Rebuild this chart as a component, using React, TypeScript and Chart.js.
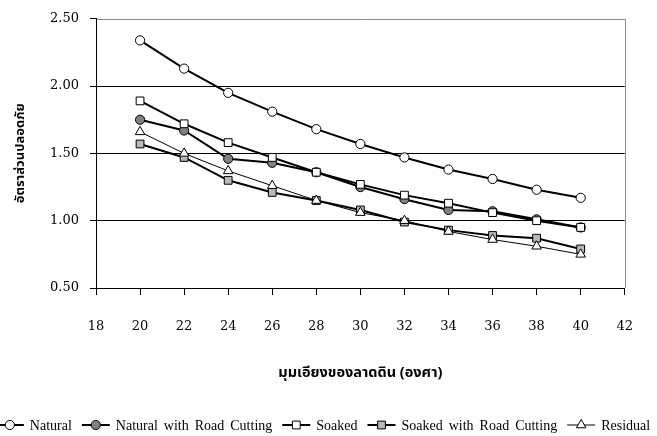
import React, { useEffect, useRef } from 'react';
import { Chart, registerables } from 'chart.js';
import { drawPoint } from 'chart.js/helpers';

Chart.register(...registerables);

const slopeAngles = [20, 22, 24, 26, 28, 30, 32, 34, 36, 38, 40];
const natural = [2.34, 2.13, 1.95, 1.81, 1.68, 1.57, 1.47, 1.38, 1.31, 1.23, 1.17];
const naturalRoadCutting = [1.75, 1.67, 1.46, 1.43, 1.36, 1.25, 1.16, 1.08, 1.07, 1.01, 0.95];
const soaked = [1.89, 1.72, 1.58, 1.47, 1.36, 1.27, 1.19, 1.13, 1.06, 1.0, 0.95];
const soakedRoadCutting = [1.57, 1.47, 1.3, 1.21, 1.15, 1.08, 0.99, 0.93, 0.89, 0.87, 0.79];
const residual = [1.66, 1.5, 1.37, 1.26, 1.15, 1.06, 1.0, 0.92, 0.86, 0.81, 0.75];

const seriesLabels = ['Natural', 'Natural with Road Cutting', 'Soaked', 'Soaked with Road Cutting', 'Residual'];
const yAxisTitle = 'อัตราส่วนปลอดภัย';
const xAxisTitle = 'มุมเอียงของลาดดิน (องศา)';
const xMin = 18;
const xMax = 42;
const xStep = 2;
const yMin = 0.5;
const yMax = 2.5;
const yStep = 0.5;

const toPoints = (ys: number[]) => slopeAngles.map((x, i) => ({ x, y: ys[i] }));

const frameBorderPlugin = {
  id: 'frameBorder',
  afterDraw(chart: any) {
    const { ctx, chartArea } = chart;
    const top = Math.round(chartArea.top) + 0.5;
    const right = Math.round(chartArea.right) + 0.5;
    ctx.save();
    ctx.strokeStyle = '#8c8c8c';
    ctx.lineWidth = 1;
    ctx.beginPath();
    ctx.moveTo(chartArea.left + 1, top);
    ctx.lineTo(right, top);
    ctx.moveTo(right, top);
    ctx.lineTo(right, chartArea.bottom);
    ctx.stroke();
    ctx.restore();
  },
};

const legendPlugin = {
  id: 'customLegend',
  afterDraw(chart: any) {
    const ctx = chart.ctx as any;
    ctx.save();
    ctx.font = '14px "Liberation Serif", "Times New Roman", serif';
    if ('wordSpacing' in ctx) ctx.wordSpacing = '2.5px';
    const markerW = 28;
    const textGap = 6;
    const itemGap = 10;
    const items = chart.data.datasets.map((ds: any) => ({ ds, w: ctx.measureText(ds.label).width }));
    const total =
      items.reduce((s: number, it: any) => s + markerW + textGap + it.w, 0) + itemGap * (items.length - 1);
    let x = 323 - total / 2;
    const y = 425;
    for (const it of items) {
      const ds = it.ds;
      ctx.strokeStyle = '#000';
      ctx.lineWidth = ds.borderWidth;
      ctx.beginPath();
      ctx.moveTo(x, y);
      ctx.lineTo(x + markerW, y);
      ctx.stroke();
      ctx.fillStyle = ds.pointBackgroundColor;
      ctx.strokeStyle = '#000';
      ctx.lineWidth = 1;
      drawPoint(ctx, { pointStyle: ds.pointStyle, radius: ds.pointRadius, rotation: 0, borderWidth: 1 } as any, x + markerW / 2, y);
      ctx.fillStyle = '#000';
      ctx.textAlign = 'left';
      ctx.textBaseline = 'middle';
      ctx.fillText(ds.label, x + markerW + textGap, y + 1);
      x += markerW + textGap + it.w + itemGap;
    }
    ctx.restore();
  },
};

export default function App() {
  const canvasRef = useRef<HTMLCanvasElement | null>(null);

  useEffect(() => {
    if (!canvasRef.current) return;
    const mk = (i: number, ys: number[], fill: string, style: string, radius: number, width: number, order: number) => ({
      label: seriesLabels[i],
      data: toPoints(ys),
      borderColor: '#000',
      borderWidth: width,
      pointStyle: style,
      pointRadius: radius,
      pointBackgroundColor: fill,
      pointBorderColor: '#000',
      pointBorderWidth: 1,
      fill: false,
      tension: 0,
      order,
    });
    const chart = new Chart(canvasRef.current, {
      type: 'line',
      data: {
        datasets: [
          mk(0, natural, '#ffffff', 'circle', 4.6, 2, 5),
          mk(1, naturalRoadCutting, '#808080', 'circle', 4.6, 2, 4),
          mk(2, soaked, '#ffffff', 'rect', 5.5, 2, 2),
          mk(3, soakedRoadCutting, '#b8b8b8', 'rect', 5.5, 2, 3),
          mk(4, residual, '#ffffff', 'triangle', 5.5, 1, 1),
        ] as any,
      },
      options: {
        animation: false,
        responsive: false,
        events: [],
        layout: { padding: { top: 14, right: 21, bottom: 53, left: 0 } },
        plugins: {
          legend: { display: false },
          tooltip: { enabled: false },
        },
        scales: {
          x: {
            type: 'linear',
            min: xMin,
            max: xMax,
            afterFit: (scale: any) => {
              scale.height = 95;
            },
            ticks: {
              stepSize: xStep,
              color: '#000',
              padding: 24,
              font: { family: '"DejaVu Serif", serif', size: 13 },
              callback: (v: any) => String(v),
            },
            grid: {
              drawOnChartArea: false,
              tickColor: '#000',
              tickLength: 7,
              lineWidth: 1,
            },
            border: { color: '#000', width: 1 },
            title: {
              display: true,
              text: xAxisTitle,
              color: '#000',
              padding: { top: 0, bottom: 0 },
              font: { family: '"Noto Sans Thai", Tahoma, "DejaVu Sans", sans-serif', size: 14.5, weight: 'bold' },
            },
          },
          y: {
            type: 'linear',
            min: yMin,
            max: yMax,
            afterFit: (scale: any) => {
              scale.width = 96;
            },
            ticks: {
              stepSize: yStep,
              color: '#000',
              padding: 11,
              font: { family: '"DejaVu Serif", serif', size: 13 },
              callback: (v: any) => Number(v).toFixed(2),
            },
            grid: {
              color: (c: any) => (c.tick && c.tick.value === yMax ? 'rgba(0,0,0,0)' : '#000'),
              tickColor: '#000',
              tickLength: 6,
              lineWidth: 1,
            },
            border: { color: '#000', width: 1 },
            title: {
              display: true,
              text: yAxisTitle,
              color: '#000',
              padding: { top: 14, bottom: 0 },
              font: { family: '"Noto Sans Thai", Tahoma, "DejaVu Sans", sans-serif', size: 13, weight: 'bold' },
            },
          },
        },
      } as any,
      plugins: [frameBorderPlugin, legendPlugin],
    });
    return () => chart.destroy();
  }, []);

  return (
    <div style={{ position: 'absolute', left: 0, top: 0, width: 657, height: 436, background: '#fff' }}>
      <canvas ref={canvasRef} width={657} height={436} style={{ display: 'block' }} />
    </div>
  );
}
